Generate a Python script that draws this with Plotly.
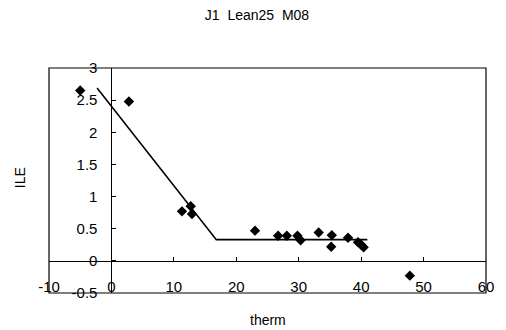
import plotly.graph_objects as go

# data
therm = [-5.0, 2.8, 11.3, 12.7, 12.9, 23.0, 26.7, 28.1, 29.8, 30.3, 33.2, 35.3, 35.2, 37.9, 39.5, 40.0, 40.4, 47.8]
ile = [2.65, 2.48, 0.77, 0.85, 0.73, 0.47, 0.39, 0.39, 0.39, 0.32, 0.44, 0.40, 0.22, 0.36, 0.29, 0.25, 0.21, -0.23]

fit_x = [-2.3, 16.8, 41.0]
fit_y = [2.69, 0.33, 0.33]

x_ticks = [-10, 0, 10, 20, 30, 40, 50, 60]
y_ticks = [-0.5, 0, 0.5, 1, 1.5, 2, 2.5, 3]

FONT = "Liberation Sans, Arial, sans-serif"

fig = go.Figure()
fig.add_trace(go.Scatter(x=fit_x, y=fit_y, mode="lines",
                         line=dict(color="black", width=1.6), showlegend=False))
fig.add_trace(go.Scatter(x=therm, y=ile, mode="markers",
                         marker=dict(symbol="diamond", size=8, color="black"),
                         showlegend=False))

xr = [-10, 60]
yr = [-0.5, 3]

fig.update_layout(
    width=506, height=330,
    margin=dict(l=49, r=17, t=68, b=37),
    paper_bgcolor="white", plot_bgcolor="white",
    font=dict(family=FONT, color="black", size=15),
    title=dict(text="J1  Lean25  M08", x=257/506, xanchor="center",
               y=1 - 15/330, yanchor="middle", yref="container",
               font=dict(size=14, family=FONT, color="black")),
    xaxis=dict(range=xr, tickvals=x_ticks, ticktext=[str(v) for v in x_ticks],
               showgrid=False, zeroline=False, showline=True, linecolor="black", linewidth=1,
               ticks="inside", ticklen=4, tickcolor="black",
               anchor="free", position=(0 - yr[0]) / (yr[1] - yr[0]),
               ticklabelstandoff=12),
    yaxis=dict(range=yr, tickvals=y_ticks, ticktext=[f"{v:g}" for v in y_ticks],
               showgrid=False, zeroline=False, showline=True, linecolor="black", linewidth=1,
               ticks="inside", ticklen=4, tickcolor="black",
               anchor="free", position=(0 - xr[0]) / (xr[1] - xr[0]),
               ticklabelstandoff=11),
    shapes=[dict(type="rect", xref="paper", yref="paper", x0=0, x1=1, y0=0, y1=1,
                 line=dict(color="black", width=1.2), layer="above")],
    annotations=[
        dict(text="therm", xref="paper", yref="paper", x=0.5, y=(293 - 320) / 225,
             xanchor="center", yanchor="middle", showarrow=False,
             font=dict(size=14, family=FONT, color="black")),
        dict(text="ILE", xref="paper", yref="paper", x=(20 - 49) / 440, y=(293 - 178) / 225,
             xanchor="center", yanchor="middle", textangle=-90, showarrow=False,
             font=dict(size=14, family=FONT, color="black")),
    ],
)

fig.write_html("out.html")
